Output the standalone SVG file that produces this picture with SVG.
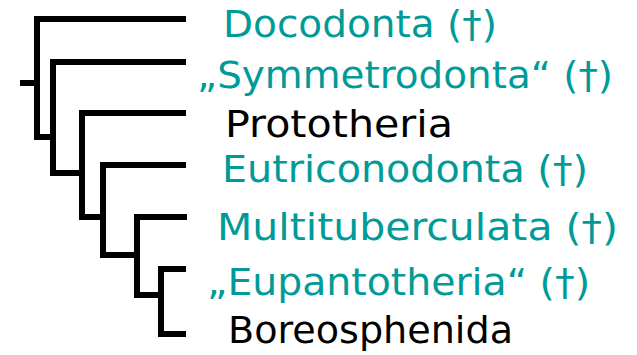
<svg xmlns="http://www.w3.org/2000/svg" width="637" height="355" viewBox="0 0 637 355">
<style>
.edge{fill:none;stroke:#000;stroke-width:6;stroke-linecap:butt;stroke-linejoin:miter}
.lbl{font-family:"DejaVu Sans","Noto Sans",sans-serif;font-size:38px}
.ext{fill:#009b98}
.live{fill:#000}
</style>
<rect width="637" height="355" fill="#fff"/>
<g id="connectors">
<path class="edge" d="M20,83 H37"/>
<path class="edge" d="M186,19 H37 V137 H53"/>
<path class="edge" d="M186,62 H53 V173 H82"/>
<path class="edge" d="M186,113 H82 V217 H103"/>
<path class="edge" d="M186,165 H103 V255 H137"/>
<path class="edge" d="M187,217 H137 V295 H161"/>
<path class="edge" d="M186,269 H161 V334 H186"/>
</g>
<g id="docodonta"><text class="lbl ext" x="223" y="37" textLength="274" lengthAdjust="spacingAndGlyphs">Docodonta (†)</text></g>
<g id="symmetrodonta"><text class="lbl ext" x="197" y="88" textLength="416" lengthAdjust="spacingAndGlyphs">„Symmetrodonta“ (†)</text></g>
<g id="prototheria"><text class="lbl live" x="225" y="137" textLength="228" lengthAdjust="spacingAndGlyphs">Prototheria</text></g>
<g id="eutriconodonta"><text class="lbl ext" x="222" y="182" textLength="366" lengthAdjust="spacingAndGlyphs">Eutriconodonta (†)</text></g>
<g id="multituberculata"><text class="lbl ext" x="217" y="240" textLength="401" lengthAdjust="spacingAndGlyphs">Multituberculata (†)</text></g>
<g id="eupantotheria"><text class="lbl ext" x="207" y="295" textLength="383" lengthAdjust="spacingAndGlyphs">„Eupantotheria“ (†)</text></g>
<g id="boreosphenida"><text class="lbl live" x="228" y="343" textLength="285" lengthAdjust="spacingAndGlyphs">Boreosphenida</text></g>
</svg>
